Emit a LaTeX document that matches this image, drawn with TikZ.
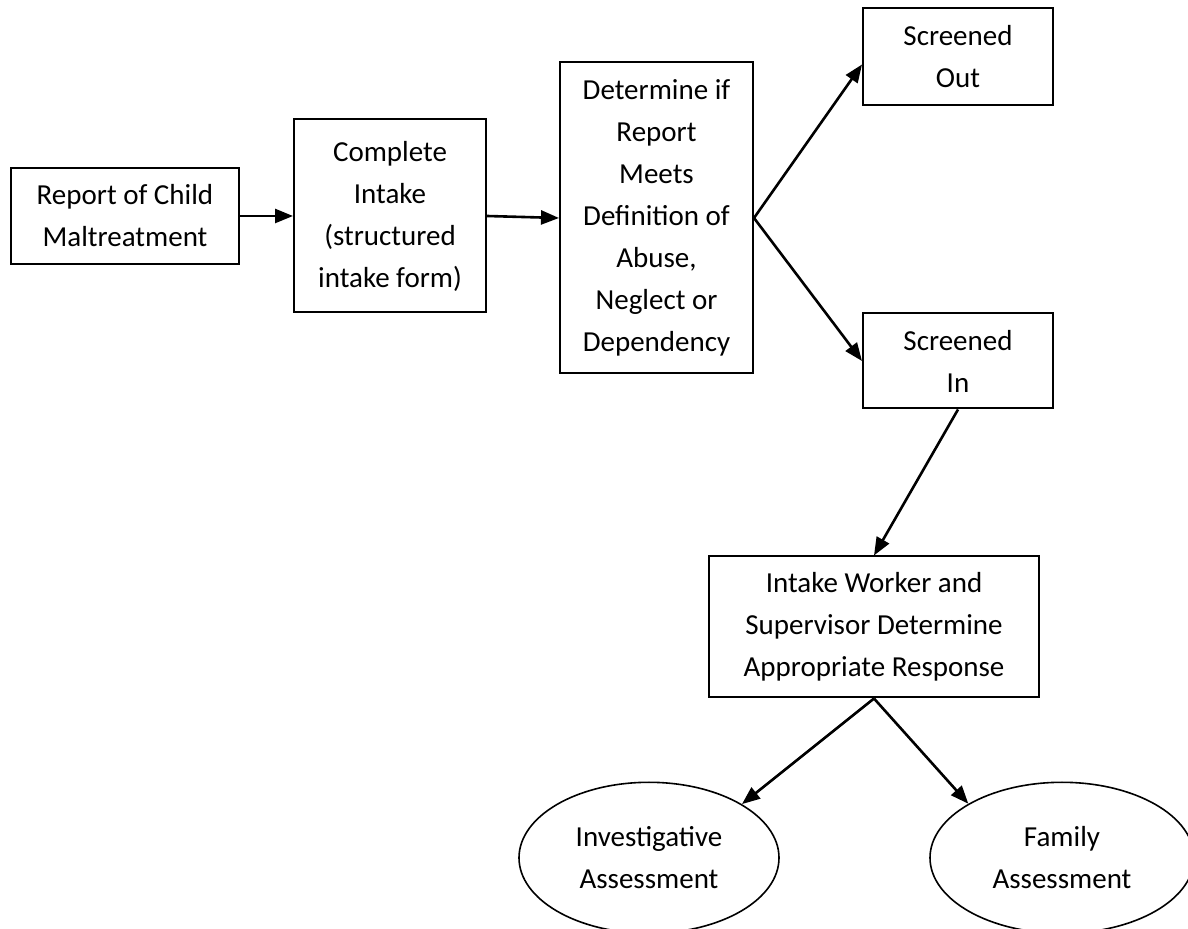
\documentclass[tikz,border=0pt]{standalone}
\usepackage{fontspec}
\setmainfont{Carlito}
\usetikzlibrary{arrows.meta,positioning,shapes.geometric}

\begin{document}
\begin{tikzpicture}[
    box/.style={draw, line width=1pt, align=center, inner sep=0pt, font=\fontsize{14.5}{21}\selectfont},
    ellbox/.style={draw, ellipse, line width=0.8pt, align=center, inner sep=0pt, minimum height=75.5pt, font=\fontsize{14.5}{21}\selectfont},
    arr/.style={-{Triangle[length=9pt, width=7pt]}, line width=1.3pt},
]
\useasboundingbox (-62.5pt,108pt) rectangle (531.5pt,-356.5pt);
\node[box, minimum width=114pt, minimum height=48pt] (report) {Report of Child\\Maltreatment};
\node[box, minimum width=96pt, minimum height=96.5pt, right=26.5pt of report] (intake) {Complete\\Intake\\(structured\\intake form)};
\node[box, minimum width=96.5pt, minimum height=155.5pt, right=36pt of intake, yshift=-1pt] (meets) {Determine if\\Report\\Meets\\Definition of\\Abuse,\\Neglect or\\Dependency};
\node[box, minimum width=95pt, minimum height=48.5pt, above right=55.75pt and 54pt of meets.east] (scrout) {Screened\\Out};
\node[box, minimum width=95pt, minimum height=47.5pt, below=103pt of scrout] (scrin) {Screened\\In};
\node[box, minimum width=165pt, minimum height=70.5pt, below left=73pt and 7pt of scrin.south east] (respond) {Intake Worker and\\Supervisor Determine\\Appropriate Response};
\node[ellbox, minimum width=130pt, below=41.5pt of respond, xshift=-112.5pt] (invest) {Investigative\\Assessment};
\node[ellbox, minimum width=132pt, below=41.5pt of respond, xshift=94pt] (family) {Family\\Assessment};
\draw[arr] (report.east) -- (intake.west);
\draw[arr] (intake.east) -- (meets.west);
\draw[arr] (meets.east) -- ([yshift=-3.75pt]scrout.west);
\draw[arr] (meets.east) -- (scrin.west);
\draw[arr] (scrin.south) -- (respond.north);
\draw[arr] (respond.south) -- (invest.30);
\draw[arr] (respond.south) -- (family.150);
\end{tikzpicture}
\end{document}
